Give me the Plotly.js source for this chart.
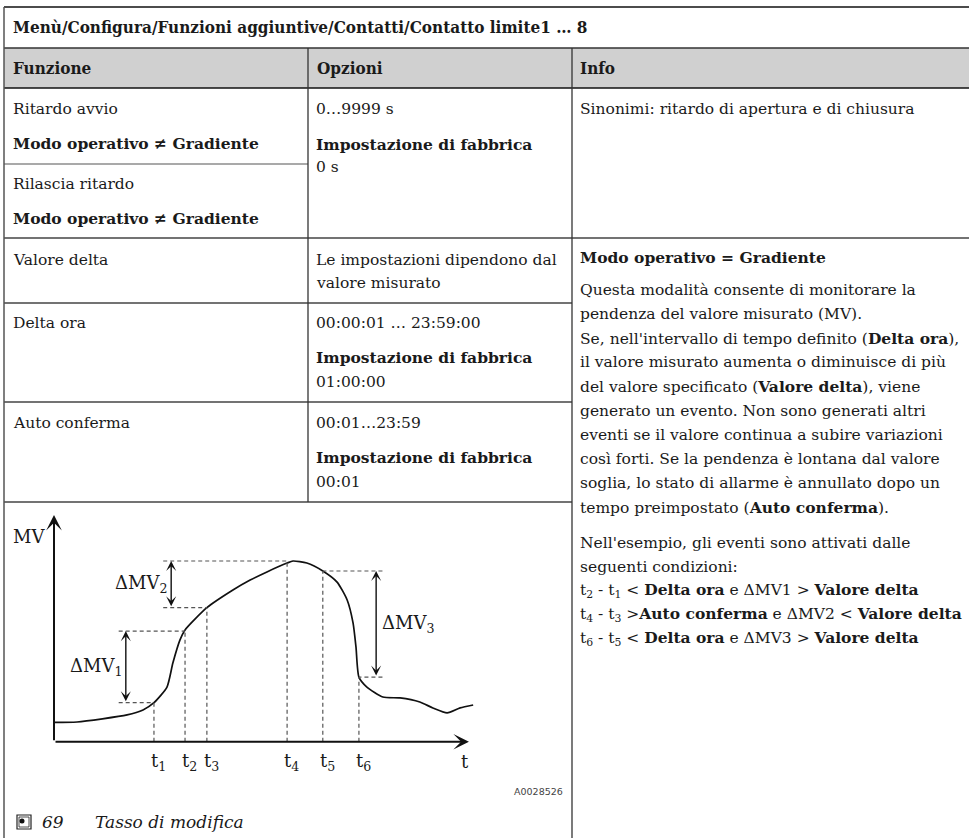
<!DOCTYPE html>
<html>
<head>
<meta charset="utf-8">
<script src="https://cdn.plot.ly/plotly-3.0.1.min.js"></script>
<style>
html,body{margin:0;padding:0;background:#fff;}
#chart{width:969px;height:838px;}
</style>
</head>
<body>
<div id="chart"></div>
<script>
// ---------------- DATA ----------------
const menuPath = "Menù/Configura/Funzioni aggiuntive/Contatti/Contatto limite1 … 8";
const headers = ["Funzione", "Opzioni", "Info"];
const funzioneNames = ["Ritardo avvio", "Rilascia ritardo", "Valore delta", "Delta ora", "Auto conferma"];
const funzioneCondition = "Modo operativo ≠ Gradiente";
const opzioniRanges = ["0…9999 s", "Le impostazioni dipendono dal", "valore misurato", "00:00:01 … 23:59:00", "00:01…23:59"];
const factoryLabel = "Impostazione di fabbrica";
const factoryValues = ["0 s", "01:00:00", "00:01"];
const infoSynonyms = "Sinonimi: ritardo di apertura e di chiusura";
const infoTitle = "Modo operativo = Gradiente";
const infoPara1 = [
  "Questa modalità consente di monitorare la",
  "pendenza del valore misurato (MV).",
  "Se, nell'intervallo di tempo definito (<b>Delta ora</b>),",
  "il valore misurato aumenta o diminuisce di più",
  "del valore specificato (<b>Valore delta</b>), viene",
  "generato un evento. Non sono generati altri",
  "eventi se il valore continua a subire variazioni",
  "così forti. Se la pendenza è lontana dal valore",
  "soglia, lo stato di allarme è annullato dopo un",
  "tempo preimpostato (<b>Auto conferma</b>)."
];
const infoPara2 = [
  "Nell'esempio, gli eventi sono attivati dalle",
  "seguenti condizioni:",
  "t<sub>2</sub> - t<sub>1</sub> &lt; <b>Delta ora</b> e ΔMV1 &gt; <b>Valore delta</b>",
  "t<sub>4</sub> - t<sub>3</sub> &gt;<b>Auto conferma</b> e ΔMV2 &lt; <b>Valore delta</b>",
  "t<sub>6</sub> - t<sub>5</sub> &lt; <b>Delta ora</b> e ΔMV3 &gt; <b>Valore delta</b>"
];
const figureNumber = "69";
const figureCaption = "Tasso di modifica";
const figureCode = "A0028526";

// measured value curve (time units 0..100, MV units 0..100)
const curveT  = [0, 5.5, 17.4, 21.2, 23.8, 26.9, 28.3, 30.0, 31.2, 36.4, 42.6, 46.7, 50.7, 55.5, 56.9, 60.2, 64.0, 67.4, 69.8, 71.2, 71.9, 72.6, 74.5, 78.3, 82.4, 87.1, 90.2, 93.6, 96.7, 99.8];
const curveMV = [8.5, 8.7, 11.8, 14.0, 17.2, 24.1, 34.7, 44.9, 49.3, 59.1, 66.9, 71.3, 74.9, 78.8, 79.7, 78.8, 75.3, 70.4, 62.5, 52.4, 41.8, 28.5, 24.1, 19.7, 19.3, 17.5, 14.9, 12.7, 14.9, 16.2];
const eventLabels = ["1", "2", "3", "4", "5", "6"];
const eventT  = [23.8, 31.2, 36.4, 55.5, 64.0, 72.6];
const eventMV = [17.2, 48.8, 59.1, 79.7, 75.3, 28.5];
// delta MV markers: [lower event index, upper event index]
const deltaNames = ["1", "2", "3"];
const deltaPairs = [[0, 1], [2, 3], [5, 4]];
const deltaArrowT = [17.1, 27.9, 76.7];
const deltaGuideT = [15.4, 26.0, 78.2];
const axisEndT = 98.8;
const axisEndMV = 100;

// ---------------- LAYOUT HELPERS ----------------
const W = 969, H = 838;
const SERIF = "DejaVu Serif, serif";
const COND = "DejaVu Serif Condensed, DejaVu Serif, serif";
const INK = "#1a1a1a";
const px = x => x / W;
const py = y => 1 - y / H;

function label(x, baseline, text, size, family, extra) {
  return Object.assign({
    xref: "paper", yref: "paper",
    x: px(x), y: py(baseline - 0.346 * size),
    xanchor: "left", yanchor: "middle",
    text: text, showarrow: false, borderpad: 0, borderwidth: 0,
    font: {family: family || SERIF, size: size, color: INK}
  }, extra || {});
}

const annotations = [];
const shapes = [];

// table background / lines
shapes.push({type: "rect", xref: "paper", yref: "paper", x0: px(4), x1: px(969), y0: py(48), y1: py(88),
  fillcolor: "#d0d0d0", line: {width: 0}, layer: "below"});
const hLines = [[7, 4, 969, "#111", 1.6], [48, 4, 969, "#333", 1.3], [88, 4, 969, "#111", 1.5],
  [164, 4, 308, "#555", 1.2], [238, 4, 969, "#444", 1.3], [303, 4, 572, "#444", 1.3],
  [402, 4, 572, "#444", 1.3], [502, 4, 572, "#444", 1.3]];
hLines.forEach(l => shapes.push({type: "line", xref: "paper", yref: "paper",
  x0: px(l[1]), x1: px(l[2]), y0: py(l[0]), y1: py(l[0]), line: {color: l[3], width: l[4]}}));
const vLines = [[4, 7, 838, "#555", 1.5], [308, 48, 502, "#333", 1.3], [572, 48, 838, "#333", 1.3]];
vLines.forEach(l => shapes.push({type: "line", xref: "paper", yref: "paper",
  x0: px(l[0]), x1: px(l[0]), y0: py(l[1]), y1: py(l[2]), line: {color: l[3], width: l[4]}}));

// header texts
annotations.push(label(13, 33, "<b>" + menuPath + "</b>", 17, COND));
[13, 317, 580].forEach((x, i) => annotations.push(label(x, 74, "<b>" + headers[i] + "</b>", 17, COND)));

const BODY = 15.5;
// column Funzione
annotations.push(label(13, 114, funzioneNames[0], BODY));
annotations.push(label(13, 149, "<b>" + funzioneCondition + "</b>", BODY));
annotations.push(label(13, 189, funzioneNames[1], BODY));
annotations.push(label(13, 224, "<b>" + funzioneCondition + "</b>", BODY));
annotations.push(label(13, 265, funzioneNames[2], BODY));
annotations.push(label(13, 328, funzioneNames[3], BODY));
annotations.push(label(13, 428, funzioneNames[4], BODY));

// column Opzioni
annotations.push(label(316, 114, opzioniRanges[0], BODY));
annotations.push(label(316, 150, "<b>" + factoryLabel + "</b>", BODY));
annotations.push(label(316, 172, factoryValues[0], BODY));
annotations.push(label(316, 265, opzioniRanges[1], BODY));
annotations.push(label(316, 288, opzioniRanges[2], BODY));
annotations.push(label(316, 328, opzioniRanges[3], BODY));
annotations.push(label(316, 363, "<b>" + factoryLabel + "</b>", BODY));
annotations.push(label(316, 387, factoryValues[1], BODY));
annotations.push(label(316, 428, opzioniRanges[4], BODY));
annotations.push(label(316, 463, "<b>" + factoryLabel + "</b>", BODY));
annotations.push(label(316, 487, factoryValues[2], BODY));

// column Info
annotations.push(label(580, 114, infoSynonyms, BODY));
annotations.push(label(580, 263, "<b>" + infoTitle + "</b>", BODY));
infoPara1.forEach((t, i) => annotations.push(label(580, 295 + i * 24.2, t, BODY)));
infoPara2.forEach((t, i) => annotations.push(label(580, 548 + i * 24, t, BODY)));

// caption icon and text
shapes.push({type: "rect", xref: "paper", yref: "paper", x0: px(17), x1: px(31), y0: py(815), y1: py(829),
  line: {color: "#222", width: 1.2}, fillcolor: "#fff"});
shapes.push({type: "rect", xref: "paper", yref: "paper", x0: px(19), x1: px(29), y0: py(817), y1: py(827),
  line: {color: "#222", width: 0.8}, fillcolor: "#fff"});
shapes.push({type: "circle", xref: "paper", yref: "paper", x0: px(19.5), x1: px(24.5), y0: py(818.5), y1: py(823.5),
  line: {width: 0}, fillcolor: "#111"});
annotations.push(label(42, 828, "<i>" + figureNumber + "</i>", 17));
annotations.push(label(95, 828, "<i>" + figureCaption + "</i>", 17));
annotations.push(label(563, 795, figureCode, 9.5, "DejaVu Sans, sans-serif",
  {xanchor: "right", font: {family: "DejaVu Sans, sans-serif", size: 9.5, color: "#444"}}));

// ---------------- CHART (data coordinates) ----------------
const DASH = {color: "#555", width: 1.2, dash: "4px,3px"};
// vertical guides from axis to the curve at each event
eventT.forEach((t, i) => shapes.push({type: "line", xref: "x", yref: "y",
  x0: t, x1: t, y0: 0, y1: eventMV[i], line: DASH}));
// horizontal guides for each delta
deltaPairs.forEach((p, k) => {
  p.forEach(idx => shapes.push({type: "line", xref: "x", yref: "y",
    x0: deltaGuideT[k], x1: eventT[idx], y0: eventMV[idx], y1: eventMV[idx], line: DASH}));
});

// axes arrows
annotations.push({xref: "x", yref: "y", axref: "x", ayref: "y", x: 0, y: axisEndMV, ax: 0, ay: 0,
  text: "", showarrow: true, arrowhead: 3, arrowsize: 1.3, arrowwidth: 2, arrowcolor: "#111", standoff: 0});
annotations.push({xref: "x", yref: "y", axref: "x", ayref: "y", x: axisEndT, y: 0, ax: 0, ay: 0,
  text: "", showarrow: true, arrowhead: 3, arrowsize: 1.3, arrowwidth: 2, arrowcolor: "#111", standoff: 0});

// delta double arrows + labels
deltaPairs.forEach((p, k) => {
  const lo = eventMV[p[0]], hi = eventMV[p[1]];
  annotations.push({xref: "x", yref: "y", axref: "x", ayref: "y",
    x: deltaArrowT[k], y: hi, ax: deltaArrowT[k], ay: lo,
    text: "", showarrow: true, arrowside: "end+start", arrowhead: 3, startarrowhead: 3,
    arrowsize: 1.2, startarrowsize: 1.2, arrowwidth: 1.4, arrowcolor: "#111", standoff: 0, startstandoff: 0});
  const right = k < 2;
  annotations.push({xref: "x", yref: "y", x: deltaArrowT[k], y: (lo + hi) / 2,
    xanchor: right ? "right" : "left", yanchor: "middle", xshift: right ? -3 : 5,
    text: "ΔMV<sub>" + deltaNames[k] + "</sub>", showarrow: false, borderpad: 0,
    font: {family: SERIF, size: 18, color: INK}});
});

// axis labels
annotations.push({xref: "x", yref: "y", x: 0, y: 90.5, xanchor: "right", yanchor: "middle", xshift: -8,
  text: "MV", showarrow: false, borderpad: 0, font: {family: SERIF, size: 18, color: INK}});
eventT.forEach((t, i) => annotations.push({xref: "x", yref: "paper", x: t, y: py(768 - 6.2),
  xanchor: "left", yanchor: "middle", xshift: -3.8, text: "t<sub>" + eventLabels[i] + "</sub>",
  showarrow: false, borderpad: 0, font: {family: SERIF, size: 18, color: INK}}));
annotations.push({xref: "x", yref: "paper", x: axisEndT, y: py(768 - 6.2),
  xanchor: "left", yanchor: "middle", xshift: -9, text: "t",
  showarrow: false, borderpad: 0, font: {family: SERIF, size: 18, color: INK}});

const traces = [{
  type: "scatter", mode: "lines", x: curveT, y: curveMV,
  line: {color: "#111", width: 1.7, shape: "spline", smoothing: 0.6},
  hoverinfo: "skip", cliponaxis: false
}];

const layout = {
  width: W, height: H,
  margin: {l: 0, r: 0, t: 0, b: 0, pad: 0},
  paper_bgcolor: "#fff", plot_bgcolor: "rgba(0,0,0,0)",
  showlegend: false,
  xaxis: {domain: [px(54), px(474)], range: [0, 100], visible: false, fixedrange: true},
  yaxis: {domain: [py(741.7), py(515)], range: [0, 100], visible: false, fixedrange: true},
  shapes: shapes,
  annotations: annotations
};

Plotly.newPlot("chart", traces, layout, {displayModeBar: false, staticPlot: true});
</script>
</body>
</html>
